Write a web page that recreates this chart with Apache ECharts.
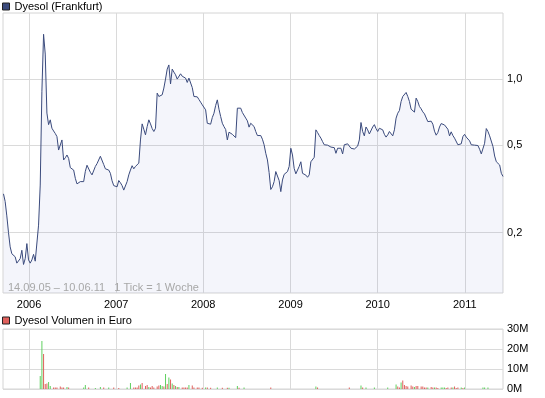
<!DOCTYPE html>
<html lang="de">
<head>
  <meta charset="UTF-8">
  <title>Dyesol (Frankfurt)</title>
  <script src="https://cdn.jsdelivr.net/npm/echarts@6/dist/echarts.min.js"></script>
  <style>
    html, body { margin: 0; padding: 0; background: #fff; }
    #chart { width: 545px; height: 398px; }
  </style>
</head>
<body>
  <div id="chart"></div>
  <script>
    // Wochenschlusskurse in EUR, ab 16.09.05 (Freitag) bis 10.06.11
    const kurse = [
      0.30, 0.277, 0.238, 0.20, 0.172, 0.16, 0.162, 0.155, 0.145, 0.146,
      0.152, 0.166, 0.143, 0.152, 0.178, 0.15, 0.145, 0.15, 0.159, 0.148,
      0.147, 0.216, 0.329, 0.88, 1.6, 1.3, 0.70, 0.62, 0.652, 0.597,
      0.58, 0.565, 0.547, 0.475, 0.467, 0.528, 0.428, 0.438, 0.451, 0.435,
      0.395, 0.39, 0.385, 0.353, 0.333, 0.335, 0.341, 0.335, 0.341, 0.38,
      0.405, 0.397, 0.376, 0.366, 0.37, 0.40, 0.412, 0.419, 0.445, 0.443,
      0.408, 0.39, 0.389, 0.385, 0.372, 0.344, 0.327, 0.322, 0.323, 0.345,
      0.337, 0.327, 0.312, 0.312, 0.341, 0.366, 0.385, 0.403, 0.39, 0.40,
      0.397, 0.414, 0.528, 0.625, 0.591, 0.557, 0.607, 0.652, 0.625, 0.595,
      0.577, 0.597, 0.863, 0.833, 0.819, 0.848, 0.91, 1.0, 1.11, 1.16,
      0.95, 1.11, 1.076, 1.046, 1.0, 1.017, 1.057, 1.03, 1.028, 1.01,
      0.965, 1.01, 0.99, 0.915, 0.833, 0.833, 0.83, 0.807, 0.785, 0.763,
      0.763, 0.724, 0.629, 0.629, 0.623, 0.668, 0.699, 0.758, 0.804, 0.729,
      0.675, 0.629, 0.607, 0.589, 0.528, 0.573, 0.577, 0.56, 0.566, 0.541,
      0.737, 0.75, 0.737, 0.704, 0.697, 0.664, 0.645, 0.604, 0.629, 0.625,
      0.608, 0.577, 0.553, 0.558, 0.553, 0.532, 0.502, 0.459, 0.428, 0.375,
      0.314, 0.323, 0.341, 0.379, 0.385, 0.345, 0.307, 0.347, 0.368, 0.375,
      0.379, 0.40, 0.484, 0.451, 0.392, 0.37, 0.372, 0.40, 0.42, 0.372,
      0.366, 0.365, 0.357, 0.366, 0.42, 0.428, 0.44, 0.587, 0.571, 0.553,
      0.538, 0.519, 0.502, 0.493, 0.50, 0.49, 0.49, 0.49, 0.487, 0.459,
      0.484, 0.484, 0.484, 0.456, 0.502, 0.507, 0.507, 0.503, 0.484, 0.49,
      0.48, 0.472, 0.495, 0.528, 0.634, 0.577, 0.551, 0.605, 0.587, 0.562,
      0.551, 0.605, 0.62, 0.595, 0.577, 0.597, 0.607, 0.587, 0.56, 0.544,
      0.557, 0.577, 0.566, 0.551, 0.587, 0.664, 0.699, 0.719, 0.79, 0.833,
      0.848, 0.869, 0.833, 0.79, 0.729, 0.737, 0.707, 0.819, 0.79, 0.75,
      0.732, 0.709, 0.694, 0.682, 0.64, 0.634, 0.643, 0.623, 0.579, 0.555,
      0.571, 0.605, 0.627, 0.623, 0.618, 0.618, 0.591, 0.551, 0.575, 0.553,
      0.538, 0.544, 0.502, 0.493, 0.507, 0.547, 0.56, 0.544, 0.54, 0.523,
      0.502, 0.497, 0.50, 0.50, 0.498, 0.479, 0.456, 0.459, 0.51, 0.595,
      0.577, 0.551, 0.544, 0.493, 0.446, 0.42, 0.428, 0.406, 0.372, 0.36
    ];

    // Wochenvolumen in Mio. EUR als [Wochenindex, Wert]
    const volumenPlus = [
      [22, 6.5], [23, 24], [27, 3.5], [28, 1.5], [38, 1.0], [48, 0.7], [49, 2.0],
      [55, 0.5], [58, 1.0], [63, 0.7], [74, 0.7], [76, 3.0], [82, 2.2], [87, 1.0],
      [94, 2.0], [95, 1.5], [97, 7.5], [99, 5.8], [101, 2.8], [103, 1.5], [105, 1.0],
      [111, 2.0], [121, 0.7], [128, 0.7], [135, 0.6], [140, 1.5], [144, 0.7],
      [187, 1.2], [214, 1.7], [217, 0.7], [222, 0.7], [230, 0.8], [235, 2.3],
      [238, 3.2], [246, 1.0], [254, 0.7], [258, 0.7], [262, 0.7], [263, 0.7],
      [264, 0.7], [269, 0.8], [274, 0.7], [276, 0.7], [287, 0.8], [288, 0.7], [290, 0.8]
    ];
    const volumenMinus = [
      [24, 17.5], [25, 2.5], [26, 2.8], [30, 0.8], [31, 0.8], [32, 0.8], [34, 1.2],
      [35, 0.8], [36, 0.8], [39, 0.7], [51, 0.7], [60, 0.7], [66, 0.7], [69, 0.5],
      [78, 0.7], [79, 0.7], [80, 0.8], [81, 1.8], [83, 3.0], [85, 1.5], [86, 2.0],
      [88, 0.8], [89, 1.5], [90, 0.8], [92, 1.2], [93, 1.7], [96, 1.2], [98, 2.5],
      [100, 4.8], [102, 2.0], [104, 1.0], [107, 0.8], [108, 0.8], [109, 0.7],
      [110, 0.8], [113, 1.8], [114, 0.7], [116, 0.7], [117, 0.7], [119, 0.6],
      [122, 0.8], [124, 0.6], [131, 0.6], [134, 0.6], [141, 0.6], [160, 0.8],
      [188, 0.7], [207, 0.7], [215, 0.7], [236, 1.2], [237, 0.7], [239, 4.2],
      [240, 2.0], [241, 1.5], [242, 1.2], [244, 1.7], [245, 1.2], [247, 1.5],
      [248, 1.5], [250, 1.2], [251, 1.2], [252, 0.8], [253, 0.8], [256, 1.0],
      [257, 0.7], [259, 0.7], [260, 0.5], [265, 0.5], [266, 0.7], [268, 0.8],
      [270, 1.2], [271, 0.5], [272, 0.7], [275, 0.5]
    ];

    const jahre = [2006, 2007, 2008, 2009, 2010, 2011];
    const kursTicks = [0.2, 0.5, 1.0];
    const startDatum = Date.UTC(2005, 8, 16);
    const TAG = 24 * 3600 * 1000;

    const wochen = kurse.map((_, i) => startDatum + i * 7 * TAG);
    const jahresTicks = jahre.map(j => Date.UTC(j, 0, 1));
    const xMin = Date.UTC(2005, 8, 14);
    const xMax = Date.UTC(2011, 5, 10);

    const font = { fontFamily: 'Liberation Sans, Arial, sans-serif', fontSize: 11, color: '#000' };
    const gitter = '#dadada';

    const chart = echarts.init(document.getElementById('chart'));

    const xAchse = (gi, labels) => ({
      type: 'value',
      gridIndex: gi,
      min: xMin,
      max: xMax,
      axisLine: { show: false },
      axisTick: { show: false, customValues: jahresTicks },
      axisLabel: {
        show: labels,
        customValues: jahresTicks,
        formatter: v => String(new Date(v).getUTCFullYear()),
        margin: 6,
        ...font
      },
      splitLine: { show: true, lineStyle: { color: gitter } }
    });

    chart.setOption({
      animation: false,
      legend: [{
        left: 2, top: 1, padding: 0,
        icon: 'rect', itemWidth: 7, itemHeight: 7,
        itemStyle: { borderColor: '#222', borderWidth: 1 },
        textStyle: font,
        data: ['Dyesol (Frankfurt)'],
        selectedMode: false
      }, {
        left: 2, top: 315, padding: 0,
        icon: 'rect', itemWidth: 7, itemHeight: 7,
        itemStyle: { borderColor: '#222', borderWidth: 1 },
        textStyle: font,
        data: ['Dyesol Volumen in Euro'],
        selectedMode: false
      }],
      grid: [
        { left: 3, right: 42, top: 13, height: 280, show: true, borderColor: '#d4d4d4', borderWidth: 1 },
        { left: 3, right: 42, top: 329, height: 60, show: true, borderColor: '#d4d4d4', borderWidth: 1 }
      ],
      xAxis: [xAchse(0, true), xAchse(1, false)],
      yAxis: [{
        type: 'log',
        gridIndex: 0,
        position: 'right',
        min: 0.106,
        max: 2.0,
        axisLine: { show: false },
        axisTick: { show: false, customValues: kursTicks },
        axisLabel: {
          customValues: kursTicks,
          formatter: v => v.toFixed(1).replace('.', ','),
          margin: 4,
          ...font
        },
        splitLine: { show: true, lineStyle: { color: gitter } }
      }, {
        type: 'value',
        gridIndex: 1,
        position: 'right',
        min: 0,
        max: 30,
        interval: 10,
        axisLine: { show: false },
        axisTick: { show: false },
        axisLabel: { formatter: '{value}M', margin: 4, ...font },
        splitLine: { show: true, lineStyle: { color: gitter } }
      }],
      graphic: [{
        type: 'text',
        left: 8,
        top: 282,
        z: 10,
        style: {
          text: '14.09.05 \u2013 10.06.11   1 Tick = 1 Woche',
          font: '11px "Liberation Sans", Arial, sans-serif',
          fill: '#a8a8a8'
        }
      }],
      series: [{
        name: 'Dyesol (Frankfurt)',
        type: 'line',
        xAxisIndex: 0,
        yAxisIndex: 0,
        data: kurse.map((v, i) => [wochen[i], v]),
        showSymbol: false,
        color: '#3a4a7c',
        lineStyle: { width: 1, color: '#3a4a7c' },
        areaStyle: { color: 'rgba(60, 90, 190, 0.085)', origin: 'start' }
      }, {
        name: 'Dyesol Volumen in Euro',
        type: 'bar',
        xAxisIndex: 1,
        yAxisIndex: 1,
        barWidth: 1,
        barGap: '-100%',
        color: '#e0605c',
        data: volumenMinus.map(([i, v]) => [wochen[i], v])
      }, {
        name: 'Volumen Plus',
        type: 'bar',
        xAxisIndex: 1,
        yAxisIndex: 1,
        barWidth: 1,
        barGap: '-100%',
        color: '#5fd05f',
        data: volumenPlus.map(([i, v]) => [wochen[i], v])
      }]
    });
  </script>
</body>
</html>
